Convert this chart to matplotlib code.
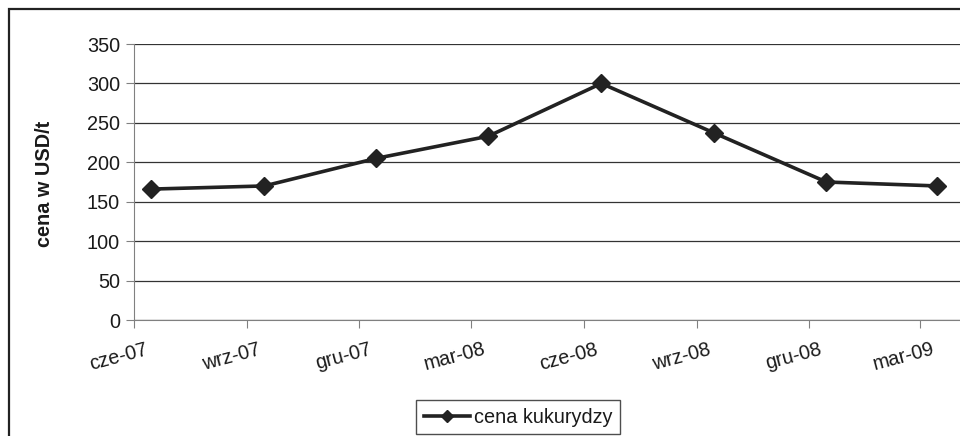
import datetime as dt

import matplotlib
matplotlib.use("Agg")
import matplotlib.pyplot as plt
import matplotlib.transforms as mtransforms
from matplotlib.patches import Rectangle

plt.rcParams['font.family'] = ['Liberation Sans', 'DejaVu Sans']

# data: corn price (USD/t), quarterly readings
dates = ["2007-06-15", "2007-09-15", "2007-12-15", "2008-03-15",
         "2008-06-15", "2008-09-15", "2008-12-15", "2009-03-15"]
prices = [166, 170, 205, 233, 300, 237, 175, 170]
tick_dates = ["2007-06-01", "2007-09-01", "2007-12-01", "2008-03-01",
              "2008-06-01", "2008-09-01", "2008-12-01", "2009-03-01"]
tick_labels = ["cze-07", "wrz-07", "gru-07", "mar-08",
               "cze-08", "wrz-08", "gru-08", "mar-09"]
series_name = "cena kukurydzy"
y_label = "cena w USD/t"

W, H = 960, 436
FS = 14.3
fig = plt.figure(figsize=(W / 100, H / 100), dpi=100)

# outer frame of the chart (cut on right and bottom)
fig.patches.append(Rectangle((9 / W, -0.1), 1.2, 1 - 9 / H + 0.1,
                             transform=fig.transFigure, fill=False,
                             edgecolor="#222222", linewidth=1.6))

# plot area: left at 134px, zero at y=320, 350 at y=44
ax = fig.add_axes([134 / W, (H - 320) / H, 899 / W, 276 / H])

x = [dt.datetime.fromisoformat(d) for d in dates]
ticks = [dt.datetime.fromisoformat(d) for d in tick_dates]

ax.plot(x, prices, color="#222222", linewidth=2.6, marker="D",
        markersize=9.5, markerfacecolor="#222222", markeredgecolor="#222222",
        label=series_name, zorder=3)

ax.set_xlim(dt.datetime(2007, 6, 1), dt.datetime(2009, 6, 1))
ax.set_ylim(0, 350)
ax.set_yticks(range(0, 351, 50))
ax.set_xticks(ticks)
ax.set_xticklabels(tick_labels)

ax.grid(axis="y", color="#333333", linewidth=0.9)
ax.set_axisbelow(True)
for s in ["top", "right"]:
    ax.spines[s].set_visible(False)
ax.spines["left"].set_color("#808080")
ax.spines["bottom"].set_color("#808080")

ax.tick_params(axis="y", direction="out", length=6, color="#808080",
               labelsize=FS, pad=4, labelcolor="#1a1a1a")
ax.tick_params(axis="x", direction="out", length=6, color="#808080",
               labelsize=FS, pad=20.5, labelcolor="#1a1a1a")

offset = mtransforms.ScaledTranslation(-16 / 100, 0, fig.dpi_scale_trans)
for lab in ax.get_xticklabels():
    lab.set_rotation(15)
    lab.set_rotation_mode("anchor")
    lab.set_ha("center")
    lab.set_va("center")
    lab.set_transform(lab.get_transform() + offset)

fig.text(44 / W, 1 - 184 / H, y_label, rotation=90, fontsize=FS,
         fontweight="bold", ha="center", va="center", color="#1a1a1a")

leg = fig.legend(loc="center", bbox_to_anchor=(518 / W, 1 - 417 / H),
                 fontsize=FS, frameon=True, fancybox=False,
                 handlelength=2.3, handletextpad=0.2, borderpad=0.38,
                 borderaxespad=0, markerscale=0.65)
leg.get_frame().set_edgecolor("#222222")
leg.get_frame().set_linewidth(1.0)
for t in leg.get_texts():
    t.set_color("#1a1a1a")

fig.savefig("out.png", dpi=100)
